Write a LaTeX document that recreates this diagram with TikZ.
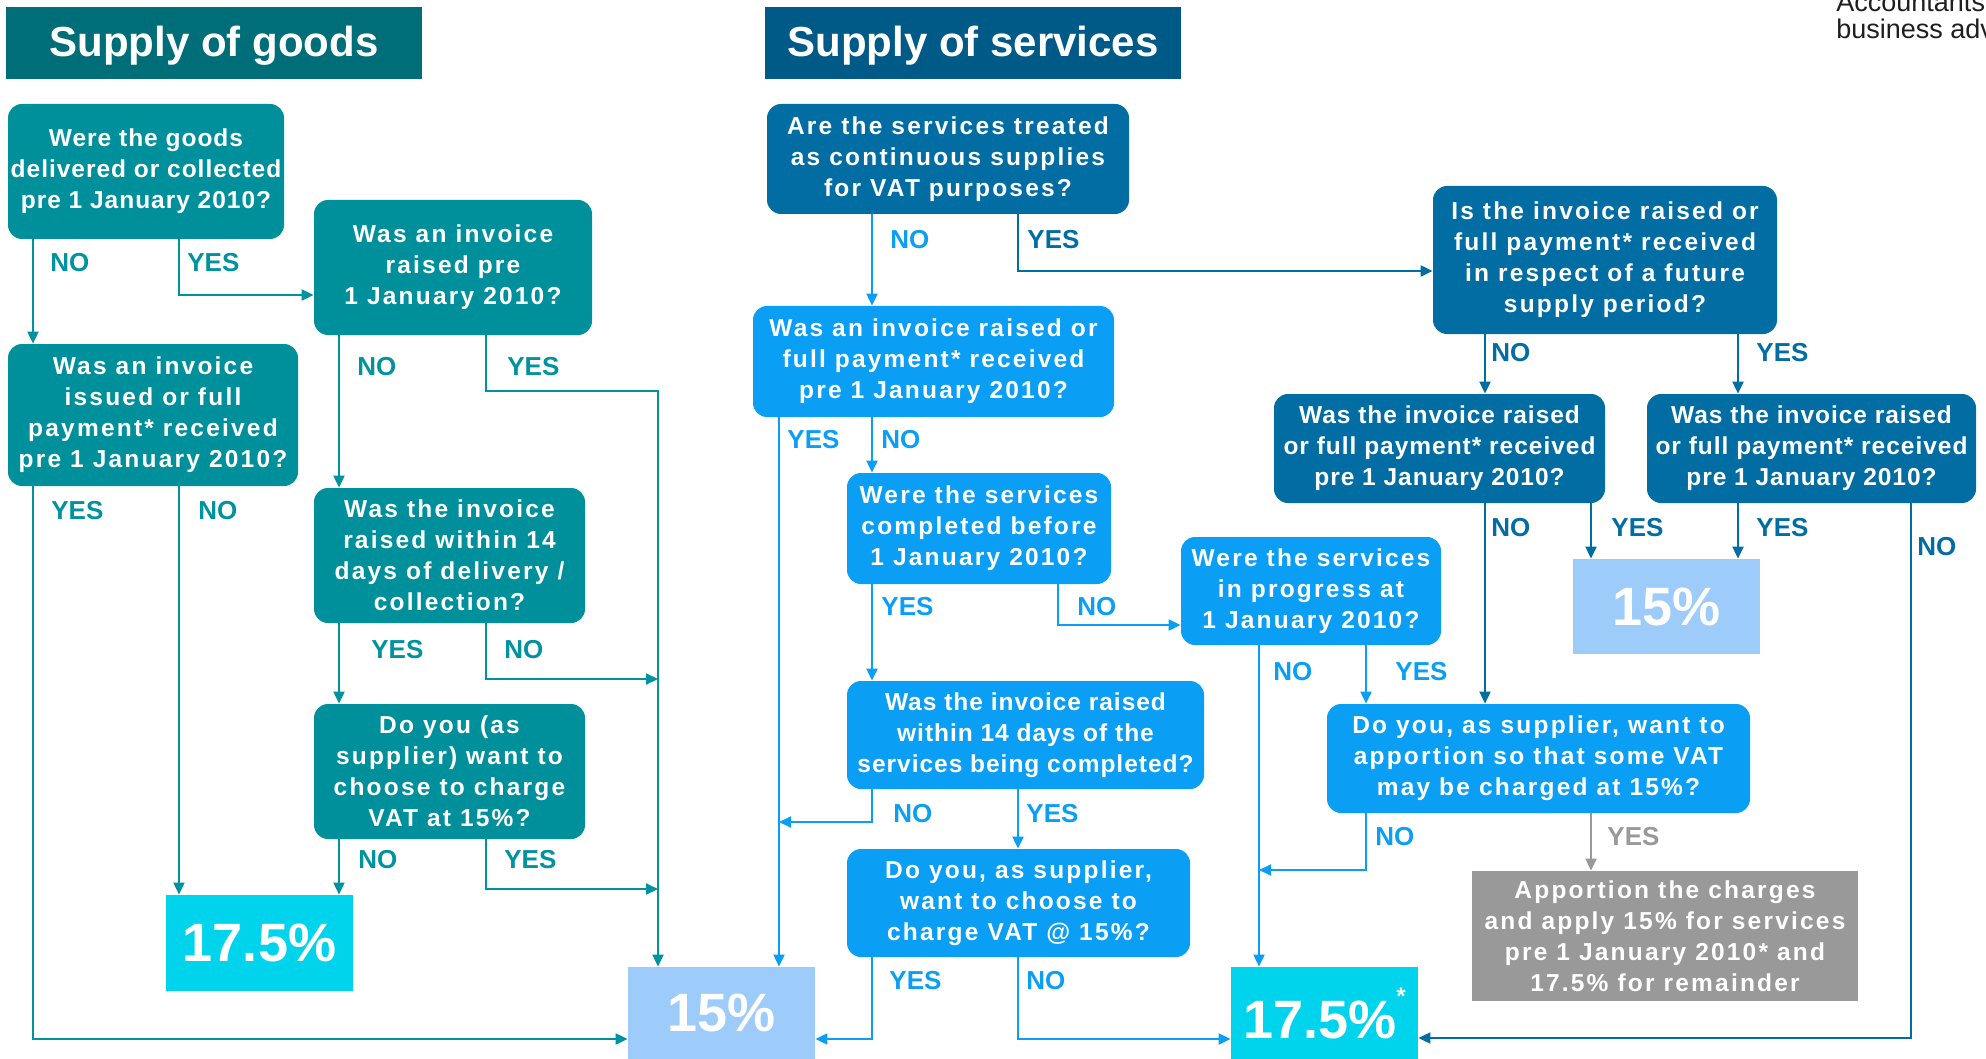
\documentclass[tikz,border=0pt]{standalone}
\usepackage{fontspec}
\setmainfont{Liberation Sans}
\newfontfamily\bxA[LetterSpace=9]{Liberation Sans}
\newfontfamily\bxB[LetterSpace=4]{Liberation Sans}
\usetikzlibrary{arrows.meta}
\definecolor{gtitle}{HTML}{006E78}
\definecolor{gbox}{HTML}{00909C}
\definecolor{gline}{HTML}{00939F}
\definecolor{stitle}{HTML}{005A87}
\definecolor{sdark}{HTML}{016DA3}
\definecolor{sbright}{HTML}{0A9FF5}
\definecolor{pctA}{HTML}{9DCBFA}
\definecolor{pctB}{HTML}{00D4EC}
\definecolor{grayb}{HTML}{999999}
\newcommand\mkbox[7]{%
  \pgfmathsetmacro\bxcx{(#2+#4)/2}%
  \pgfmathsetmacro\bxcy{(#3+#5)/2}%
  \pgfmathsetmacro\bxw{(#4-#2)/2}%
  \pgfmathsetmacro\bxh{(#5-#3)/2}%
  \node[#6, minimum width=\bxw pt, minimum height=\bxh pt] (#1) at (\bxcx,\bxcy) {#7};%
}
\newcommand\lbl[5]{\node[lbltxt, text=#4, anchor=west] (#1) at (#2,#3) {#5};}
\tikzset{
  qbox/.style={rounded corners=7pt, inner sep=0pt, align=center, text=white,
    font=\bxA\bfseries\fontsize{12.25}{15.5}\selectfont},
  qboxn/.style={qbox, font=\bxB\bfseries\fontsize{12.25}{15.5}\selectfont},
  gq/.style={fill=gbox},
  sd/.style={fill=sdark},
  sb/.style={fill=sbright},
  titletxt/.style={inner sep=0pt, text=white, font=\bfseries\fontsize{21}{25}\selectfont},
  pct/.style={inner sep=0pt, text=white, font=\bfseries\fontsize{27}{30}\selectfont},
  graybox/.style={inner sep=0pt, align=center, text=white, fill=grayb,
    font=\bxA\bfseries\fontsize{12.25}{15.5}\selectfont},
  lbltxt/.style={inner sep=0pt, font=\bfseries\fontsize{13}{15}\selectfont},
  hdr/.style={inner sep=0pt, anchor=base west, text=black!88, font=\fontsize{13.5}{15}\selectfont},
  arr/.style={line width=1pt, -{Triangle[length=6pt,width=5.5pt]}},
  ga/.style={arr, draw=gline},
  da/.style={arr, draw=sdark},
  ba/.style={arr, draw=sbright},
  ya/.style={arr, draw=grayb},
}
\begin{document}
\begin{tikzpicture}[x=0.5pt, y=-0.5pt]
\useasboundingbox (0,0) rectangle (1986,1059);
\clip (0,0) rectangle (1986,1059);
\fill[white] (0,0) rectangle (1986,1059);

% header text (cut by the right edge, as in the reference)
\node[hdr] (hdrA) at (1836,12) {Accountants};
\node[hdr] (hdrB) at (1836,39) {business adv};

% titles
\fill[gtitle] (6,7) rectangle (422,79);
\node[titletxt, anchor=base] (tG) at (214,57) {Supply of goods};
\fill[stitle] (765,7) rectangle (1181,79);
\node[titletxt, anchor=base] (tS) at (973,57) {Supply of services};

% goods boxes
\mkbox{G1}{8}{104}{284}{239}{qboxn,gq}{Were the goods\\delivered or collected\\pre 1 January 2010?}
\mkbox{G2}{314}{200}{592}{335}{qbox,gq}{Was an invoice\\raised pre\\1 January 2010?}
\mkbox{G3}{8}{344}{298}{486}{qbox,gq}{Was an invoice\\issued or full\\payment* received\\pre 1 January 2010?}
\mkbox{G4}{314}{488}{585}{623}{qbox,gq}{Was the invoice\\raised within 14\\days of delivery /\\collection?}
\mkbox{G5}{314}{704}{585}{839}{qbox,gq}{Do you (as\\supplier) want to\\choose to charge\\VAT at 15\%?}
\mkbox{Rg}{166}{895}{353}{991}{pct,fill=pctB}{17.5\%}
\mkbox{R15}{628}{967}{815}{1059}{pct,fill=pctA}{15\%}

% services boxes
\mkbox{S1}{767}{104}{1129}{214}{qbox,sd}{Are the services treated\\as continuous supplies\\for VAT purposes?}
\mkbox{S2}{753}{306}{1114}{417}{qbox,sb}{Was an invoice raised or\\full payment* received\\pre 1 January 2010?}
\mkbox{S3}{1433}{186}{1777}{334}{qbox,sd}{Is the invoice raised or\\full payment* received\\in respect of a future\\supply period?}
\mkbox{S4}{847}{473}{1111}{584}{qbox,sb}{Were the services\\completed before\\1 January 2010?}
\mkbox{S5}{1181}{537}{1441}{645}{qbox,sb}{Were the services\\in progress at\\1 January 2010?}
\mkbox{S6}{847}{681}{1204}{789}{qboxn,sb}{Was the invoice raised\\within 14 days of the\\services being completed?}
\mkbox{S7}{1327}{704}{1750}{813}{qbox,sb}{Do you, as supplier, want to\\apportion so that some VAT\\may be charged at 15\%?}
\mkbox{S8}{847}{849}{1190}{957}{qbox,sb}{Do you, as supplier,\\want to choose to\\charge VAT @ 15\%?}
\mkbox{S9}{1274}{394}{1605}{503}{qboxn,sd}{Was the invoice raised\\or full payment* received\\pre 1 January 2010?}
\mkbox{S10}{1647}{394}{1976}{503}{qboxn,sd}{Was the invoice raised\\or full payment* received\\pre 1 January 2010?}
\mkbox{R15b}{1573}{559}{1760}{654}{pct,fill=pctA}{15\%}
\mkbox{Rs}{1231}{967}{1418}{1059}{pct,fill=pctB}{17.5\%\raisebox{17pt}{\fontsize{12}{12}\selectfont *}}
\mkbox{GR}{1472}{871}{1858}{1001}{graybox}{Apportion the charges\\and apply 15\% for services\\pre 1 January 2010* and\\17.5\% for remainder}

% lane coordinates
\coordinate (x33) at (33,0);
\coordinate (x179) at (179,0);
\coordinate (x339) at (339,0);
\coordinate (x658) at (658,0);
\coordinate (x779) at (779,0);
\coordinate (x872) at (872,0);
\coordinate (x1018) at (1018,0);
\coordinate (x1259) at (1259,0);
\coordinate (x1366) at (1366,0);
\coordinate (x1485) at (1485,0);
\coordinate (x1591) at (1591,0);
\coordinate (x1738) at (1738,0);
% bends
\coordinate (bG1) at (179,295);
\coordinate (bG2a) at (486,391);
\coordinate (bG2b) at (658,391);
\coordinate (bG3) at (33,1039);
\coordinate (bG4) at (486,679);
\coordinate (eG4) at (658,679);
\coordinate (bG5) at (486,889);
\coordinate (eG5) at (658,889);
\coordinate (bS1) at (1018,271);
\coordinate (bS4) at (1058,625);
\coordinate (bS6) at (872,822);
\coordinate (eS6) at (779,822);
\coordinate (bS8y) at (872,1039);
\coordinate (bS8n) at (1018,1039);
\coordinate (bS7) at (1366,870);
\coordinate (eS7) at (1259,870);
\coordinate (bS10) at (1911,1038);

% goods connectors
\draw[ga] (G1.south -| x33) -- (G3.north -| x33);
\draw[ga] (G1.south -| bG1) -- (bG1) -- (G2.west |- bG1);
\draw[ga] (G2.south -| x339) -- (G4.north -| x339);
\draw[ga] (G2.south -| bG2a) -- (bG2a) -- (bG2b) -- (R15.north -| bG2b);
\draw[ga] (G3.south -| bG3) -- (bG3) -- (R15.west |- bG3);
\draw[ga] (G3.south -| x179) -- (Rg.north -| x179);
\draw[ga] (G4.south -| x339) -- (G5.north -| x339);
\draw[ga] (G4.south -| bG4) -- (bG4) -- (eG4);
\draw[ga] (G5.south -| x339) -- (Rg.north -| x339);
\draw[ga] (G5.south -| bG5) -- (bG5) -- (eG5);

% services connectors
\draw[ba] (S1.south -| x872) -- (S2.north -| x872);
\draw[da] (S1.south -| bS1) -- (bS1) -- (S3.west |- bS1);
\draw[ba] (S2.south -| x779) -- (R15.north -| x779);
\draw[ba] (S2.south -| x872) -- (S4.north -| x872);
\draw[ba] (S4.south -| x872) -- (S6.north -| x872);
\draw[ba] (S4.south -| bS4) -- (bS4) -- (S5.west |- bS4);
\draw[ba] (S5.south -| x1259) -- (Rs.north -| x1259);
\draw[ba] (S5.south -| x1366) -- (S7.north -| x1366);
\draw[ba] (S6.south -| bS6) -- (bS6) -- (eS6);
\draw[ba] (S6.south -| x1018) -- (S8.north -| x1018);
\draw[ba] (S8.south -| bS8y) -- (bS8y) -- (R15.east |- bS8y);
\draw[ba] (S8.south -| bS8n) -- (bS8n) -- (Rs.west |- bS8n);
\draw[ba] (S7.south -| bS7) -- (bS7) -- (eS7);
\draw[ya] (S7.south -| x1591) -- (GR.north -| x1591);
\draw[da] (S3.south -| x1485) -- (S9.north -| x1485);
\draw[da] (S3.south -| x1738) -- (S10.north -| x1738);
\draw[da] (S9.south -| x1485) -- (S7.north -| x1485);
\draw[da] (S9.south -| x1591) -- (R15b.north -| x1591);
\draw[da] (S10.south -| x1738) -- (R15b.north -| x1738);
\draw[da] (S10.south -| bS10) -- (bS10) -- (Rs.east |- bS10);

% labels
\lbl{lG1n}{50}{263}{gline}{NO}
\lbl{lG1y}{187}{263}{gline}{YES}
\lbl{lG2n}{357}{367}{gline}{NO}
\lbl{lG2y}{507}{367}{gline}{YES}
\lbl{lG3y}{51}{511}{gline}{YES}
\lbl{lG3n}{198}{511}{gline}{NO}
\lbl{lG4y}{371}{650}{gline}{YES}
\lbl{lG4n}{504}{650}{gline}{NO}
\lbl{lG5n}{358}{860}{gline}{NO}
\lbl{lG5y}{504}{860}{gline}{YES}
\lbl{lS1n}{890}{240}{sbright}{NO}
\lbl{lS1y}{1027}{240}{sdark}{YES}
\lbl{lS2y}{787}{440}{sbright}{YES}
\lbl{lS2n}{881}{440}{sbright}{NO}
\lbl{lS4y}{881}{607}{sbright}{YES}
\lbl{lS4n}{1077}{607}{sbright}{NO}
\lbl{lS5n}{1273}{672}{sbright}{NO}
\lbl{lS5y}{1395}{672}{sbright}{YES}
\lbl{lS6n}{893}{814}{sbright}{NO}
\lbl{lS6y}{1026}{814}{sbright}{YES}
\lbl{lS8y}{889}{981}{sbright}{YES}
\lbl{lS8n}{1026}{981}{sbright}{NO}
\lbl{lS7n}{1375}{837}{sbright}{NO}
\lbl{lS7y}{1607}{837}{grayb}{YES}
\lbl{lS3n}{1491}{353}{sdark}{NO}
\lbl{lS3y}{1756}{353}{sdark}{YES}
\lbl{lS9n}{1491}{528}{sdark}{NO}
\lbl{lS9y}{1611}{528}{sdark}{YES}
\lbl{lS10y}{1756}{528}{sdark}{YES}
\lbl{lS10n}{1917}{547}{sdark}{NO}
\end{tikzpicture}
\end{document}
